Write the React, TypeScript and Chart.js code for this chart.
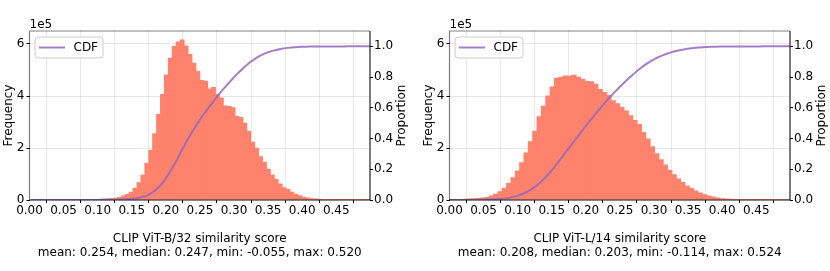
import React, { useEffect, useRef } from "react";
import { Chart, registerables } from "chart.js";

Chart.register(...registerables);
Chart.defaults.font.family = "'DejaVu Sans', sans-serif";
Chart.defaults.font.size = 12;
Chart.defaults.color = "#000";

// ---- data ----
const X_TICKS = [0, 0.05, 0.1, 0.15, 0.2, 0.25, 0.3, 0.35, 0.4, 0.45];
const FREQ_TICKS = [0, 2, 4, 6]; // in units of 1e5
const PROP_TICKS = [0, 0.2, 0.4, 0.6, 0.8, 1.0];
const FREQ_OFFSET_LABEL = "1e5";
const LEGEND_LABEL = "CDF";
const Y_TITLE = "Frequency";
const Y1_TITLE = "Proportion";

// ViT-B/32 histogram: 100 bins over [min, max]; counts (x1e5) from bin index B32_FIRST_BIN
const B32_RANGE = [-0.055, 0.52];
const B32_BINS = 100;
const B32_FIRST_BIN = 10;
const B32_COUNTS = [
  0.0005, 0.0005, 0.001, 0.001, 0.001, 0.002, 0.002, 0.003, 0.003, 0.004,
  0.005, 0.006, 0.008, 0.01, 0.012, 0.015, 0.018, 0.022, 0.03, 0.04,
  0.05, 0.07, 0.1, 0.15, 0.21, 0.3, 0.45, 0.66, 0.95, 1.4,
  1.9, 2.55, 3.29, 4.06, 4.81, 5.45, 5.9, 6.08, 6.15, 5.92,
  5.6, 5.26, 4.94, 4.6, 4.57, 4.27, 4.33, 4.06, 3.92, 3.62,
  3.6, 3.55, 3.21, 3.17, 2.95, 2.63, 2.22, 1.99, 1.66, 1.45,
  1.18, 0.96, 0.79, 0.62, 0.47, 0.4, 0.3, 0.22, 0.16, 0.11,
  0.08, 0.05, 0.035, 0.025, 0.018, 0.013, 0.01, 0.007, 0.005, 0.004,
  0.003, 0.002, 0.002, 0.001, 0.001, 0.001, 0.0005,
];
const B32_TITLE = [
  "CLIP ViT-B/32 similarity score",
  "mean: 0.254, median: 0.247, min: -0.055, max: 0.520",
];

// ViT-L/14 histogram
const L14_RANGE = [-0.114, 0.524];
const L14_BINS = 100;
const L14_FIRST_BIN = 17;
const L14_COUNTS = [
  0.008, 0.01, 0.015, 0.02, 0.03, 0.04, 0.05, 0.06, 0.08, 0.1,
  0.15, 0.22, 0.32, 0.45, 0.63, 0.86, 1.12, 1.43, 1.81, 2.24,
  2.64, 3.2, 3.61, 4.0, 4.35, 4.68, 4.72, 4.77, 4.76, 4.8,
  4.72, 4.64, 4.56, 4.55, 4.45, 4.25, 4.13, 4.02, 3.82, 3.7,
  3.56, 3.42, 3.24, 3.06, 2.9, 2.6, 2.35, 2.05, 1.78, 1.55,
  1.35, 1.13, 0.97, 0.81, 0.67, 0.54, 0.44, 0.35, 0.27, 0.2,
  0.15, 0.12, 0.08, 0.05, 0.04, 0.03, 0.02, 0.015, 0.01, 0.008,
  0.006, 0.004, 0.003, 0.002, 0.002, 0.001, 0.001, 0.001, 0.0005, 0.0005,
];
const L14_TITLE = [
  "CLIP ViT-L/14 similarity score",
  "mean: 0.208, median: 0.203, min: -0.114, max: 0.524",
];

// ---- styles ----
const BAR_COLOR = "rgb(255,130,108)";
const CDF_COLOR = "rgba(148,103,189,0.85)";
const GRID_COLOR = "rgba(0,0,0,0.09)";
const SPINE_LIGHT = "rgba(0,0,0,0.5)";
const SPINE_DARK = "#222";
const FONT = "12px 'DejaVu Sans', sans-serif";
const W = 410;
const H = 271;

function buildSeries(range: number[], bins: number, first: number, counts: number[]) {
  const w = (range[1] - range[0]) / bins;
  const bars = counts.map((c, k) => ({ x: range[0] + (first + k + 0.5) * w, y: c }));
  const total = counts.reduce((a, b) => a + b, 0);
  let cum = 0;
  const cdf = [{ x: range[0] + first * w, y: 0 }];
  counts.forEach((c, k) => {
    cum += c;
    cdf.push({ x: range[0] + (first + k + 1) * w, y: cum / total });
  });
  return { bars, cdf };
}

const overlay = {
  id: "overlay",
  afterDatasetsDraw(chart: any) {
    const { ctx, chartArea: a } = chart;
    ctx.save();
    // spines
    ctx.lineWidth = 1.2;
    ctx.strokeStyle = SPINE_LIGHT;
    ctx.beginPath();
    ctx.moveTo(a.left, a.top);
    ctx.lineTo(a.right, a.top);
    ctx.moveTo(a.left, a.top);
    ctx.lineTo(a.left, a.bottom);
    ctx.stroke();
    ctx.strokeStyle = SPINE_DARK;
    ctx.beginPath();
    ctx.moveTo(a.right, a.top);
    ctx.lineTo(a.right, a.bottom);
    ctx.moveTo(a.left, a.bottom);
    ctx.lineTo(a.right, a.bottom);
    ctx.stroke();
    // legend
    const lx = a.left + 5.5;
    const ly = a.top + 6;
    ctx.beginPath();
    (ctx as any).roundRect(lx, ly, 68, 21, 3);
    ctx.fillStyle = "rgba(255,255,255,0.8)";
    ctx.fill();
    ctx.strokeStyle = "#cccccc";
    ctx.lineWidth = 1;
    ctx.stroke();
    ctx.strokeStyle = CDF_COLOR;
    ctx.lineWidth = 2;
    ctx.beginPath();
    ctx.moveTo(lx + 4, ly + 10.5);
    ctx.lineTo(lx + 30, ly + 10.5);
    ctx.stroke();
    ctx.fillStyle = "#000";
    ctx.font = FONT;
    ctx.textBaseline = "middle";
    ctx.textAlign = "left";
    ctx.fillText(LEGEND_LABEL, lx + 38.5, ly + 11);
    // offset text
    ctx.textBaseline = "alphabetic";
    ctx.fillText(FREQ_OFFSET_LABEL, a.left, a.top - 2.7);
    // right axis title, rotated like matplotlib (reading upward)
    ctx.translate(chart.width - 8.3, (a.top + a.bottom) / 2);
    ctx.rotate(-Math.PI / 2);
    ctx.textAlign = "center";
    ctx.textBaseline = "middle";
    ctx.fillText(Y1_TITLE, 0, 0);
    ctx.restore();
  },
};

function Panel({ left, range, bins, first, counts, title }: any) {
  const ref = useRef<HTMLCanvasElement>(null);
  useEffect(() => {
    const { bars, cdf } = buildSeries(range, bins, first, counts);
    const chart = new Chart(ref.current as HTMLCanvasElement, {
      type: "bar",
      data: {
        datasets: [
          {
            type: "line",
            data: cdf,
            yAxisID: "y1",
            borderColor: CDF_COLOR,
            borderWidth: 2,
            pointRadius: 0,
            cubicInterpolationMode: "monotone",
            order: 0,
          } as any,
          {
            type: "bar",
            data: bars,
            yAxisID: "y",
            backgroundColor: BAR_COLOR,
            borderWidth: 0,
            inflateAmount: 0.5,
            barPercentage: 1,
            categoryPercentage: 1,
            order: 1,
          } as any,
        ],
      },
      options: {
        animation: false,
        responsive: false,
        events: [],
        layout: { padding: { top: 31, left: 0, right: 0, bottom: 0 } },
        plugins: { legend: { display: false }, tooltip: { enabled: false } },
        scales: {
          x: {
            type: "linear",
            min: 0,
            max: 0.4995,
            offset: false,
            afterBuildTicks: (s: any) => {
              s.ticks = X_TICKS.map((v) => ({ value: v }));
            },
            ticks: {
              callback: (v: any) => Number(v).toFixed(2),
              autoSkip: false,
              maxRotation: 0,
              padding: 1,
            },
            grid: { color: GRID_COLOR, tickColor: "#000", tickLength: 3 },
            border: { display: false },
            title: {
              display: true,
              text: title,
              padding: { top: 0, bottom: 11 },
              font: { size: 12, lineHeight: 1.15 },
            },
            afterFit: (s: any) => {
              s.height = 71;
            },
          },
          y: {
            type: "linear",
            position: "left",
            min: 0,
            max: 6.5,
            afterBuildTicks: (s: any) => {
              s.ticks = FREQ_TICKS.map((v) => ({ value: v }));
            },
            ticks: { callback: (v: any) => String(v), padding: 2 },
            grid: { color: GRID_COLOR, tickColor: "#000", tickLength: 3 },
            border: { display: false },
            title: {
              display: true,
              text: Y_TITLE,
              padding: { top: 1.6, bottom: 0 },
              font: { size: 12, lineHeight: 1.15 },
            },
            afterFit: (s: any) => {
              s.width = 29.5;
            },
          },
          y1: {
            type: "linear",
            position: "right",
            min: 0,
            max: 1.1,
            afterBuildTicks: (s: any) => {
              s.ticks = PROP_TICKS.map((v) => ({ value: v }));
            },
            ticks: { callback: (v: any) => Number(v).toFixed(1), padding: 1 },
            grid: { drawOnChartArea: false, tickColor: "#000", tickLength: 3 },
            border: { display: false },
            title: { display: false },
            afterFit: (s: any) => {
              s.width = 40;
            },
          },
        },
      },
      plugins: [overlay],
    } as any);
    return () => chart.destroy();
  }, []);
  return (
    <canvas
      ref={ref}
      width={W}
      height={H}
      style={{ position: "absolute", left, top: 0, width: W, height: H }}
    />
  );
}

export default function App() {
  return (
    <div style={{ position: "absolute", left: 0, top: 0, width: 830, height: 271, background: "#fff" }}>
      <Panel left={0} range={B32_RANGE} bins={B32_BINS} first={B32_FIRST_BIN} counts={B32_COUNTS} title={B32_TITLE} />
      <Panel left={420} range={L14_RANGE} bins={L14_BINS} first={L14_FIRST_BIN} counts={L14_COUNTS} title={L14_TITLE} />
    </div>
  );
}
